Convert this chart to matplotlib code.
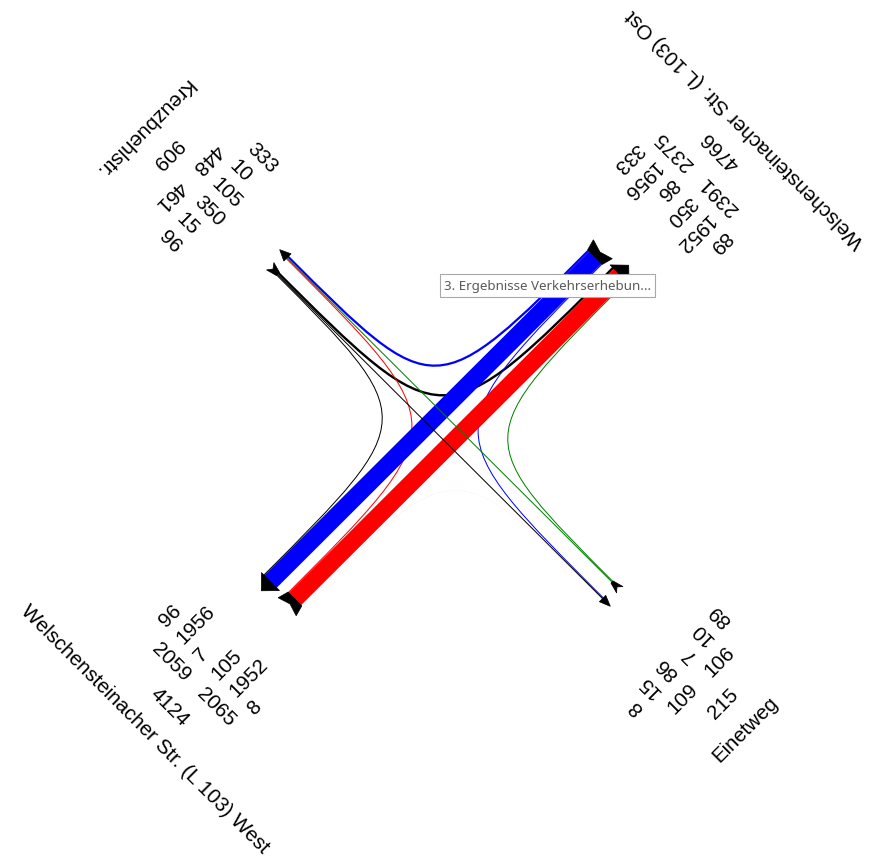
import numpy as np
import matplotlib
matplotlib.use("Agg")
import matplotlib.pyplot as plt
from matplotlib.transforms import Affine2D
from matplotlib.path import Path
from matplotlib.patches import PathPatch, Polygon, Rectangle

# ---------------- data ----------------
arm_ids = ["E", "O", "K", "W"]
arm_labels = ["Einetweg",
              "Welschensteinacher Str. (L 103) Ost",
              "Kreuzbuehlstr.",
              "Welschensteinacher Str. (L 103) West"]
arm_colors = ["green", "blue", "black", "red"]   # colour of the flows leaving each arm

flow_origin = ["W", "W", "W", "O", "O", "O", "K", "K", "K", "E", "E", "E"]
flow_dest   = ["K", "O", "E", "K", "W", "E", "O", "W", "E", "O", "K", "W"]
flow_volume = [105, 1952, 8, 333, 1956, 86, 350, 96, 15, 89, 10, 7]

tooltip_text = "3. Ergebnisse Verkehrserhebun..."

# ---------------- layout / style ----------------
plt.rcParams['font.family'] = ['Liberation Sans', 'DejaVu Sans']
W_PX, H_PX, DPI = 876, 862, 100
CX, CY = 445, H_PX - 429
ARM_ROT = {"E": 0, "O": 90, "K": 180, "W": 270}
LANE_CENTER = {"E": 9.2, "O": 14.8, "K": 9.2, "W": 14.8}
L = 233
FS = 14.8
PT = 72.0 / DPI
WMAX, EXPO = 17.5, 1.16

color_of = dict(zip(arm_ids, arm_colors))
label_of = dict(zip(arm_ids, arm_labels))
vol = {(o, d): q for o, d, q in zip(flow_origin, flow_dest, flow_volume)}
rot_to_arm = {v: k for k, v in ARM_ROT.items()}
qmax = max(flow_volume)


def width_px(q):
    w = WMAX * (q / qmax) ** EXPO
    return max(1.0, w) if q >= 10 else w


def slot_px(q):
    return max(1.0, WMAX * (q / qmax) ** EXPO)


def partners(x):
    t = ARM_ROT[x]
    return [rot_to_arm[(t + d) % 360] for d in (270, 180, 90)]


def lanes(x, side):
    ps = partners(x)
    if side == "in":
        flows = [(p, x) for p in ps]
        center = -LANE_CENTER[x]
    else:
        flows = [(x, p) for p in ps]
        center = LANE_CENTER[x]
    ws = [slot_px(vol[f]) for f in flows]
    tot = sum(ws)
    a = center - tot / 2
    pos = {}
    for f, w in zip(flows, ws):
        pos[f] = a + w / 2
        a += w
    return flows, pos, center - tot / 2, center + tot / 2


def to_uv(x, a, b):
    t = np.deg2rad(ARM_ROT[x])
    return np.array([a * np.cos(t) - b * np.sin(t), a * np.sin(t) + b * np.cos(t)])


fig = plt.figure(figsize=(W_PX / DPI, H_PX / DPI), dpi=DPI)
ax = fig.add_axes([0, 0, 1, 1])
ax.set_xlim(0, W_PX)
ax.set_ylim(0, H_PX)
ax.axis("off")
tr = Affine2D().rotate_deg(45).translate(CX, CY) + ax.transData

lane_in = {}
lane_out = {}
bounds = {}
for x in arm_ids:
    _, pin, lo_i, hi_i = lanes(x, "in")
    _, pout, lo_o, hi_o = lanes(x, "out")
    lane_in.update(pin)
    lane_out.update(pout)
    bounds[x] = ((lo_i, hi_i), (lo_o, hi_o))

# ---------------- flows ----------------
curves, straights = [], []
for o, d, q in zip(flow_origin, flow_dest, flow_volume):
    p0 = to_uv(o, lane_out[(o, d)], -L)
    p3 = to_uv(d, lane_in[(o, d)], -L)
    w = width_px(q)
    if (ARM_ROT[o] - ARM_ROT[d]) % 360 == 180:
        path = Path([p0, p3], [Path.MOVETO, Path.LINETO])
        straights.append((w, path, color_of[o]))
    else:
        do = to_uv(o, 0, -1)
        dd = to_uv(d, 0, -1)
        st = np.linalg.solve(np.column_stack([do, -dd]), p3 - p0)
        corner = p0 + st[0] * do
        path = Path([p0, corner, corner, p3],
                    [Path.MOVETO, Path.CURVE4, Path.CURVE4, Path.CURVE4])
        curves.append((w, path, color_of[o]))

z = 2
for group in (curves, straights):
    for w, path, c in sorted(group, key=lambda t: -t[0]):
        ax.add_patch(PathPatch(path, facecolor="none", edgecolor=c,
                               linewidth=w * PT, capstyle="butt",
                               joinstyle="round", transform=tr, zorder=z))
        z += 0.01

# ---------------- end markers ----------------
for x in arm_ids:
    (lo_i, hi_i), (lo_o, hi_o) = bounds[x]
    big = (hi_i - lo_i) > 10
    ac = (lo_i + hi_i) / 2
    tip = 12 if big else 10
    arrow = [to_uv(x, lo_i - 3, -(L - 1)), to_uv(x, hi_i + 3, -(L - 1)),
             to_uv(x, ac, -(L + tip))]
    ax.add_patch(Polygon(arrow, closed=True, facecolor="black",
                         edgecolor="black", lw=0.5, transform=tr, zorder=5))
    ac = (lo_o + hi_o) / 2
    tail = [to_uv(x, lo_o, -(L - 6)), to_uv(x, hi_o, -(L - 6)),
            to_uv(x, hi_o + 3, -(L + 5)), to_uv(x, ac, -(L + 1)),
            to_uv(x, lo_o - 3, -(L + 5))]
    ax.add_patch(Polygon(tail, closed=True, facecolor="black",
                         edgecolor="black", lw=0.5, transform=tr, zorder=5))

# ---------------- labels ----------------
cols_in = [-62.5, -37.5, -12.5]
cols_out = [12.5, 37.5, 62.5]
for x in arm_ids:
    th = ARM_ROT[x]
    fin, _, _, _ = lanes(x, "in")
    fout, _, _, _ = lanes(x, "out")
    for flows, cols in ((fin, cols_in), (fout, cols_out)):
        for f, a in zip(flows, cols):
            p = to_uv(x, a, -338)
            ax.text(p[0], p[1], str(vol[f]), transform=tr, fontsize=FS,
                    rotation=45 + th + 90, rotation_mode="anchor",
                    ha="left", va="center", zorder=6)
    s_in = sum(vol[f] for f in fin)
    s_out = sum(vol[f] for f in fout)
    p = to_uv(x, -6, -359)
    ax.text(p[0], p[1], str(s_in), transform=tr, fontsize=FS,
            rotation=45 + th, rotation_mode="anchor", ha="right", va="center")
    p = to_uv(x, 12, -359)
    ax.text(p[0], p[1], str(s_out), transform=tr, fontsize=FS,
            rotation=45 + th, rotation_mode="anchor", ha="left", va="center")
    p = to_uv(x, 2, -391)
    ax.text(p[0], p[1], str(s_in + s_out), transform=tr, fontsize=FS,
            rotation=45 + th, rotation_mode="anchor", ha="center", va="center")
    p = to_uv(x, 0, -425)
    ax.text(p[0], p[1], label_of[x], transform=tr, fontsize=FS,
            rotation=45 + th, rotation_mode="anchor", ha="center", va="center")

# ---------------- tooltip (screenshot artefact) ----------------
ax.add_patch(Rectangle((441, H_PX - 299), 215, 23, facecolor="#c8c8c8",
                       edgecolor="none", zorder=9, alpha=0.5))
ax.add_patch(Rectangle((440, H_PX - 298), 215, 23, facecolor="white",
                       edgecolor="#a8a8a8", lw=0.8, zorder=10))
ax.text(444, H_PX - 286.5, tooltip_text, fontsize=9.6, color="#5a5a5a",
        family=["Noto Sans", "DejaVu Sans"], ha="left", va="center", zorder=11)

fig.savefig("out.png", dpi=DPI)
